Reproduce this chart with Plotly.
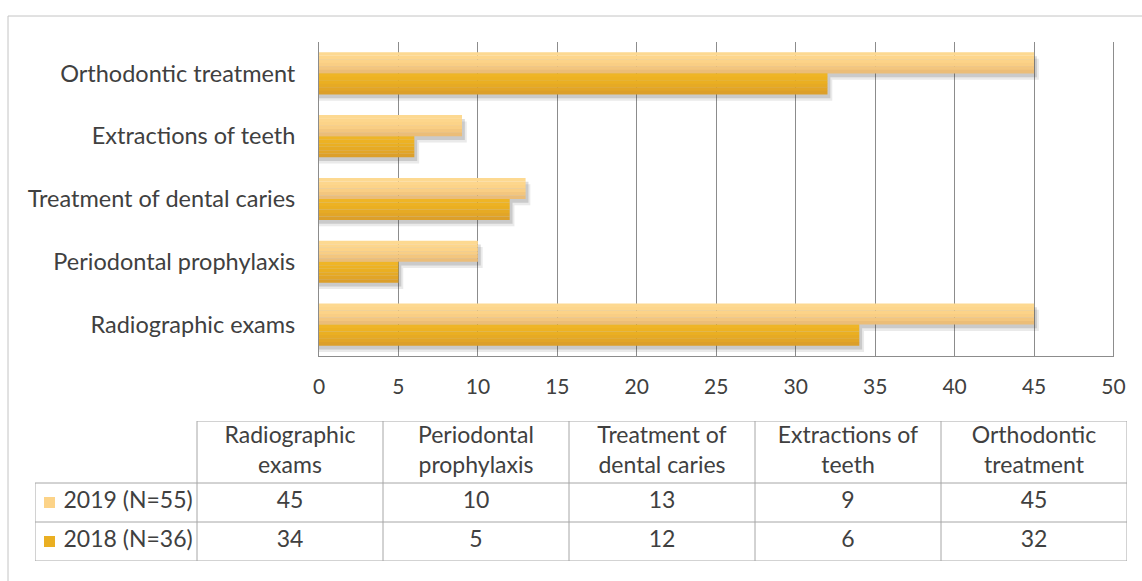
import plotly.graph_objects as go

# Categories (bottom to top on the bar chart) and yearly counts
categories = [
    "Radiographic exams",
    "Periodontal prophylaxis",
    "Treatment of dental caries",
    "Extractions of teeth",
    "Orthodontic treatment",
]
table_headers = [
    "Radiographic<br>exams",
    "Periodontal<br>prophylaxis",
    "Treatment of<br>dental caries",
    "Extractions of<br>teeth",
    "Orthodontic<br>treatment",
]
series_names = ["2019 (N=55)", "2018 (N=36)"]
values_2019 = [45, 10, 13, 9, 45]
values_2018 = [34, 5, 12, 6, 32]
x_ticks = [0, 5, 10, 15, 20, 25, 30, 35, 40, 45, 50]

W, H = 1142, 581
FONT = "Lato"
TEXT = "#404040"
GRID = "#8C8C8C"
BORDER = "#A6A6A6"

# vertical shading of each series' bars, top band first
grad_2019 = ["#FDD991", "#FDD68C", "#FCD388", "#F9CE84", "#F3C67E", "#EBBD78"]
grad_2018 = ["#EFB526", "#EDB223", "#EAAF22", "#E6AA24", "#E2A527", "#DC9F2A"]
key_2019, key_2018 = grad_2019[2], grad_2018[2]

fig = go.Figure()

bar_w = 0.335
series = [
    (values_2019, grad_2019, 0.0),
    (values_2018, grad_2018, -bar_w),
]
for vals, grad, off in series:
    # soft drop shadow, two layers for a blurred edge
    for k, alpha in [(0.10, 0.11), (0.06, 0.18)]:
        fig.add_trace(go.Bar(
            y=categories, x=[v + k * 3 for v in vals], orientation="h",
            width=bar_w, offset=off - k,
            marker=dict(color=f"rgba(60,60,60,{alpha})", line=dict(width=0)),
            showlegend=False, hoverinfo="skip",
        ))
    n = len(grad)
    band = bar_w / n
    for i, col in enumerate(grad):
        fig.add_trace(go.Bar(
            y=categories, x=vals, orientation="h",
            width=band * 1.02, offset=off + bar_w - (i + 1) * band,
            marker=dict(color=col, line=dict(width=0)),
            showlegend=False, hoverinfo="skip",
        ))

# ---- data table under the chart, laid out on its own hidden axes ----
col_widths = [162] + [186] * len(categories)
header_h, row_h = 62, 39
edges = [0]
for w in col_widths:
    edges.append(edges[-1] + w)
table_w = edges[-1]
table_h = header_h + 2 * row_h
row_mid = [table_h - header_h - row_h / 2, table_h - header_h - 1.5 * row_h]
header_mid = table_h - header_h / 2
col_mid = [(edges[i] + edges[i + 1]) / 2 for i in range(1, len(edges) - 1)]

fig.add_trace(go.Scatter(
    x=col_mid, y=[header_mid] * len(col_mid), mode="text",
    text=table_headers, textposition="middle center",
    textfont=dict(family=FONT, size=23, color=TEXT),
    xaxis="x2", yaxis="y2", showlegend=False, hoverinfo="skip", cliponaxis=False,
))
for vals, ym in zip([values_2019, values_2018], row_mid):
    fig.add_trace(go.Scatter(
        x=col_mid, y=[ym] * len(col_mid), mode="text",
        text=[str(v) for v in vals], textposition="middle center",
        textfont=dict(family=FONT, size=23, color=TEXT),
        xaxis="x2", yaxis="y2", showlegend=False, hoverinfo="skip", cliponaxis=False,
    ))
# legend keys and series names in the first column
fig.add_trace(go.Scatter(
    x=[14.5, 14.5], y=row_mid, mode="markers",
    marker=dict(symbol="square", size=11, color=[key_2019, key_2018], line=dict(width=0)),
    xaxis="x2", yaxis="y2", showlegend=False, hoverinfo="skip", cliponaxis=False,
))
fig.add_trace(go.Scatter(
    x=[28.5, 28.5], y=row_mid, mode="text",
    text=series_names, textposition="middle right",
    textfont=dict(family=FONT, size=23, color=TEXT),
    xaxis="x2", yaxis="y2", showlegend=False, hoverinfo="skip", cliponaxis=False,
))

line = dict(color=BORDER, width=1)
table_shapes = []
# horizontal rules
for yv in [0, row_h, 2 * row_h]:
    table_shapes.append(dict(type="line", xref="x2", yref="y2",
                             x0=0, x1=table_w, y0=yv, y1=yv, line=line))
table_shapes.append(dict(type="line", xref="x2", yref="y2",
                         x0=edges[1], x1=table_w, y0=table_h, y1=table_h, line=line))
# vertical rules
table_shapes.append(dict(type="line", xref="x2", yref="y2",
                         x0=0, x1=0, y0=0, y1=2 * row_h, line=line))
for xv in edges[1:]:
    table_shapes.append(dict(type="line", xref="x2", yref="y2",
                             x0=xv, x1=xv, y0=0, y1=table_h, line=line))

frame = dict(color="#C4C4C4", width=1)
fig.update_layout(
    width=W, height=H, autosize=False,
    margin=dict(l=0, r=0, t=0, b=0, autoexpand=False),
    paper_bgcolor="white", plot_bgcolor="rgba(0,0,0,0)",
    barmode="overlay", showlegend=False,
    font=dict(family=FONT, size=23, color=TEXT),
    xaxis=dict(
        domain=[319 / W, 1114 / W],
        range=[0, 50.03], tickvals=x_ticks,
        showgrid=True, gridcolor=GRID, gridwidth=1,
        showline=True, linecolor=GRID, linewidth=1,
        ticks="outside", ticklen=12, tickcolor="rgba(0,0,0,0)",
        zeroline=False, fixedrange=True, automargin=False,
        tickfont=dict(family=FONT, size=21, color=TEXT),
    ),
    yaxis=dict(
        domain=[(H - 356) / H, (H - 42) / H],
        categoryorder="array", categoryarray=categories,
        range=[-0.5, 4.5],
        showgrid=False,
        showline=True, linecolor=GRID, linewidth=1,
        ticks="outside", ticklen=18, tickcolor="rgba(0,0,0,0)",
        fixedrange=True, automargin=False,
        tickfont=dict(family=FONT, size=23.5, color=TEXT),
    ),
    xaxis2=dict(domain=[35 / W, (35 + table_w) / W], range=[0, table_w],
                visible=False, fixedrange=True, anchor="y2", automargin=False),
    yaxis2=dict(domain=[(H - 421 - table_h) / H, (H - 421) / H], range=[0, table_h],
                visible=False, fixedrange=True, anchor="x2", automargin=False),
    shapes=[
        # outer chart frame: only its left and top edges fall on the page
        dict(type="line", xref="paper", yref="paper",
             x0=8 / W, x1=8 / W, y0=0, y1=(H - 16) / H, line=frame, layer="below"),
        dict(type="line", xref="paper", yref="paper",
             x0=8 / W, x1=1, y0=(H - 16) / H, y1=(H - 16) / H, line=frame, layer="below"),
        # closing gridline at the last tick, at the edge of the plot area
        dict(type="line", xref="x", yref="y domain",
             x0=x_ticks[-1], x1=x_ticks[-1], y0=0, y1=1,
             line=dict(color=GRID, width=1), layer="below"),
    ] + table_shapes,
)

fig.write_html("out.html", config={"responsive": False})
